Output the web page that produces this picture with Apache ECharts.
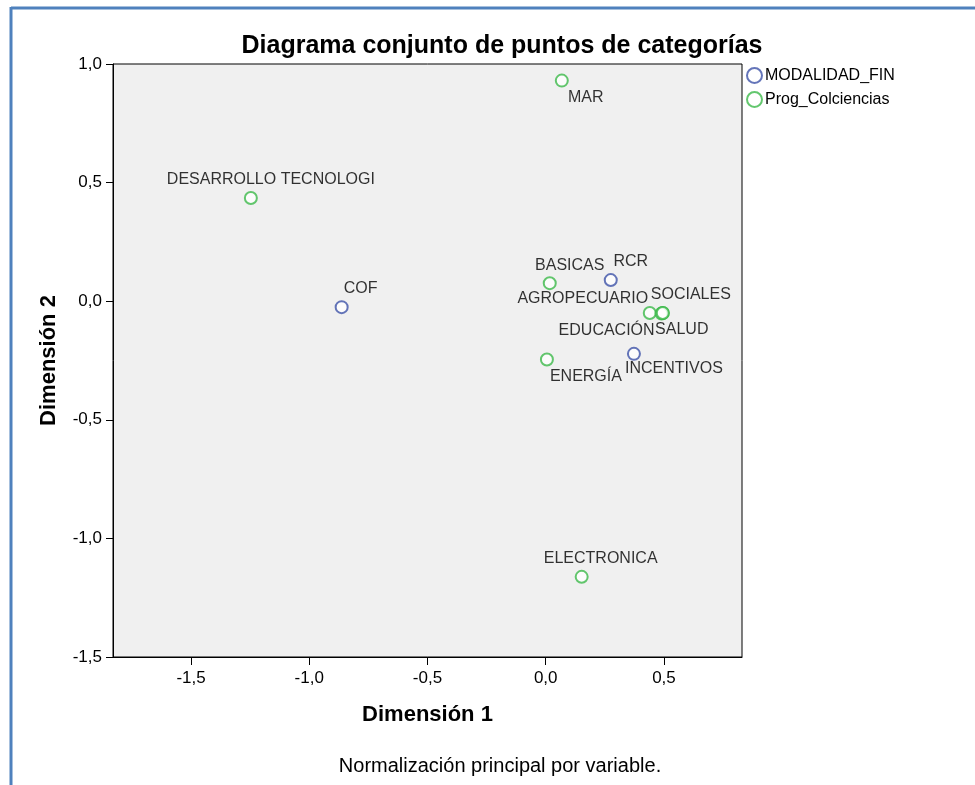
<!DOCTYPE html>
<html>
<head>
<meta charset="utf-8">
<style>
html, body { margin: 0; padding: 0; background: #fff; }
#main { width: 975px; height: 785px; }
</style>
<script src="https://cdn.jsdelivr.net/npm/echarts@6/dist/echarts.min.js"></script>
</head>
<body>
<div id="main"></div>
<script>
// puntos de categorias (coordenadas)
var modalidadNames = ['COF', 'RCR', 'INCENTIVOS'];
var modalidadX = [-0.863, 0.275, 0.373];
var modalidadY = [-0.025, 0.089, -0.222];

var progNames = ['MAR', 'DESARROLLO TECNOLOGI', 'BASICAS', 'AGROPECUARIO', 'SOCIALES', 'EDUCACIÓN', 'SALUD', 'ENERGÍA', 'ELECTRONICA'];
var progX = [0.068, -1.247, 0.017, 0.44, 0.495, 0.49, 0.495, 0.005, 0.152];
var progY = [0.93, 0.435, 0.076, -0.05, -0.05, -0.052, -0.05, -0.246, -1.162];

var xTicks = [-1.5, -1.0, -0.5, 0.0, 0.5];
var yTicks = [-1.5, -1.0, -0.5, 0.0, 0.5, 1.0];

// donde va cada etiqueta respecto a su punto
var labelOffsets = {
  'MAR': [24, 17],
  'DESARROLLO TECNOLOGI': [20, -18],
  'COF': [19, -19],
  'BASICAS': [20, -18],
  'RCR': [20, -18],
  'AGROPECUARIO': [-67, -14],
  'SOCIALES': [28, -18],
  'EDUCACIÓN': [-55, 17],
  'SALUD': [19, 17],
  'ENERGÍA': [39, 17],
  'INCENTIVOS': [40, 15],
  'ELECTRONICA': [19, -18]
};

var fontMain = '"Liberation Sans", Arial, sans-serif';
var fontNarrow = '"Liberation Sans Narrow", "Liberation Sans", Arial, sans-serif';

function buildData(names, xs, ys) {
  var out = [];
  for (var i = 0; i < names.length; i++) {
    out.push({
      name: names[i],
      value: [xs[i], ys[i]],
      label: { offset: labelOffsets[names[i]] || [0, -16] }
    });
  }
  return out;
}

function fmt(v) {
  return v.toFixed(1).replace('.', ',');
}

var pointLabel = {
  show: true,
  position: 'inside',
  formatter: '{b}',
  color: '#000',
  textBorderWidth: 0,
  fontSize: 16,
  fontFamily: fontMain
};

var option = {
  animation: false,
  backgroundColor: '#fff',
  title: [{
    text: 'Diagrama conjunto de puntos de categorías',
    left: 497,
    top: 29,
    textAlign: 'center',
    textStyle: { fontSize: 25, fontWeight: 'bold', color: '#000', fontFamily: fontMain }
  }, {
    text: 'Normalización principal por variable.',
    left: 495,
    top: 751,
    textAlign: 'center',
    textStyle: { fontSize: 20, fontWeight: 'normal', color: '#000', fontFamily: fontNarrow }
  }],
  legend: {
    orient: 'vertical',
    left: 741,
    top: 62,
    itemWidth: 15,
    itemHeight: 15,
    itemGap: 7,
    icon: 'emptyCircle',
    textStyle: { fontSize: 16, color: '#000', fontFamily: fontMain, padding: [0, 0, 0, -2] },
    data: ['MODALIDAD_FIN', 'Prog_Colciencias']
  },
  grid: {
    left: 113,
    right: 233,
    top: 64,
    bottom: 128,
    show: true,
    backgroundColor: '#f0f0f0',
    borderColor: '#000',
    borderWidth: 1
  },
  xAxis: {
    type: 'value',
    min: -1.83,
    max: 0.83,
    name: 'Dimensión 1',
    nameLocation: 'middle',
    nameGap: 47,
    nameTextStyle: { fontSize: 22, fontWeight: 'bold', color: '#000', fontFamily: fontMain },
    axisLine: { show: true, onZero: false, lineStyle: { color: '#000', width: 1 } },
    axisTick: { show: true, length: 8, customValues: xTicks, lineStyle: { color: '#000' } },
    axisLabel: { customValues: xTicks, margin: 13, fontSize: 17, color: '#000', fontFamily: fontNarrow, formatter: fmt },
    splitLine: { show: false }
  },
  yAxis: {
    type: 'value',
    min: -1.5,
    max: 1.0,
    interval: 0.5,
    name: 'Dimensión 2',
    nameLocation: 'middle',
    nameGap: 53,
    nameTextStyle: { fontSize: 22, fontWeight: 'bold', color: '#000', fontFamily: fontMain },
    axisLine: { show: true, onZero: false, lineStyle: { color: '#000', width: 1 } },
    axisTick: { show: true, length: 7, lineStyle: { color: '#000' } },
    axisLabel: { margin: 11, fontSize: 17, color: '#000', fontFamily: fontNarrow, formatter: fmt },
    splitLine: { show: false }
  },
  series: [{
    name: 'MODALIDAD_FIN',
    type: 'scatter',
    symbol: 'emptyCircle',
    symbolSize: 12,
    itemStyle: { color: '#3d52a8', borderColor: '#3d52a8', borderWidth: 1.6 },
    label: pointLabel,
    data: buildData(modalidadNames, modalidadX, modalidadY)
  }, {
    name: 'Prog_Colciencias',
    type: 'scatter',
    symbol: 'emptyCircle',
    symbolSize: 12,
    itemStyle: { color: '#3cb94a', borderColor: '#3cb94a', borderWidth: 1.6 },
    label: pointLabel,
    data: buildData(progNames, progX, progY)
  }],
  graphic: [{
    type: 'line',
    shape: { x1: 11, y1: 8, x2: 975, y2: 8 },
    style: { stroke: '#4f81bd', lineWidth: 3 }
  }, {
    type: 'line',
    shape: { x1: 11, y1: 7, x2: 11, y2: 785 },
    style: { stroke: '#4f81bd', lineWidth: 3 }
  }]
};

var myChart = echarts.init(document.getElementById('main'));
myChart.setOption(option);
</script>
</body>
</html>
